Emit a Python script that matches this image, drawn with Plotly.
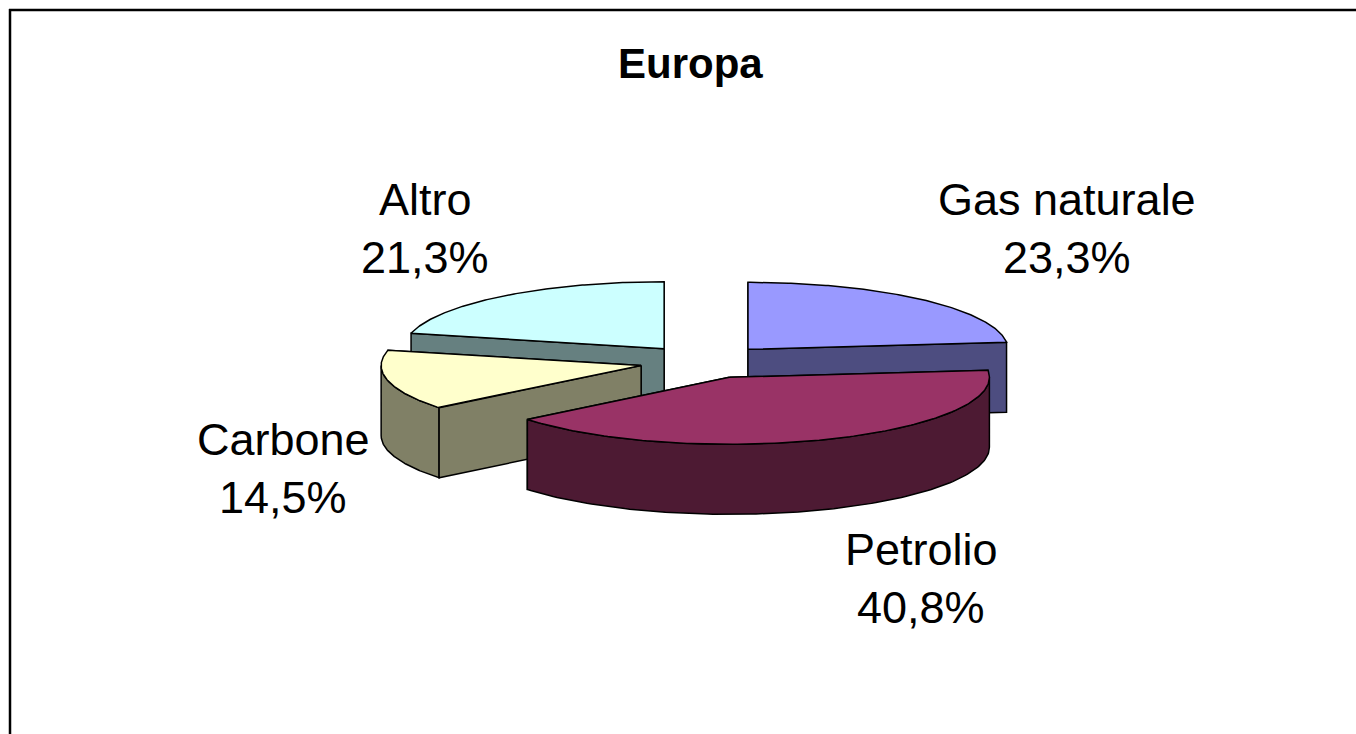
import numpy as np
import plotly.graph_objects as go

# ---- data -------------------------------------------------------------
labels = ["Gas naturale", "Petrolio", "Carbone", "Altro"]
values = [23.3, 40.8, 14.5, 21.3]
title_text = "Europa"

# ---- styles -----------------------------------------------------------
top_colors = ["#9999FF", "#993366", "#FFFFCC", "#CCFFFF"]
side_colors = ["#4D4D80", "#4D1A33", "#808066", "#668080"]
FONT = "Liberation Sans, Arial, sans-serif"

# ---- pie geometry (pixel space of the figure) -------------------------
W, H = 1356, 734
X0, Y0 = 704.5, 361.8      # centre of the un-exploded pie
RX, RY = 260.0, 67.0       # ellipse radii of the tilted top face
DEPTH = 70.0               # thickness of the pie
EXPLODE = 0.25             # explosion as a fraction of the radius

# label placement (cap-centre of the name line, centre x)
label_pos = [(1067, 199), (921, 549), (283, 439), (425, 199)]
LINE_GAP = 58


def pt(cx, cy, ang, dz=0.0):
    return cx + RX * np.cos(ang), cy - RY * np.sin(ang) + dz


fig = go.Figure()


def add_poly(xs, ys, color):
    fig.add_trace(go.Scatter(
        x=list(xs) + [xs[0]], y=list(ys) + [ys[0]],
        mode="lines", fill="toself", fillcolor=color,
        line=dict(color="black", width=1.5),
        hoverinfo="skip", showlegend=False,
    ))


def radial_face(cx, cy, a, color):
    px, py = pt(cx, cy, a)
    add_poly([cx, px, px, cx], [cy, py, py + DEPTH, cy + DEPTH], color)


total = sum(values)
slices = []
start = np.pi / 2
for i, v in enumerate(values):
    sweep = 2 * np.pi * v / total
    a1, a2 = start, start - sweep          # clockwise
    mid = (a1 + a2) / 2
    cx = X0 + EXPLODE * RX * np.cos(mid)
    cy = Y0 - EXPLODE * RY * np.sin(mid)
    slices.append((i, a1, a2, cx, cy))
    start = a2

# paint from back to front
for i, a1, a2, cx, cy in sorted(slices, key=lambda s: s[4]):
    side = side_colors[i]
    # which flat cut faces turn towards the viewer
    front_a1 = np.cos(a1) < 0
    front_a2 = np.cos(a2) > 0
    if not front_a1:
        radial_face(cx, cy, a1, side)
    if not front_a2:
        radial_face(cx, cy, a2, side)
    # curved outer wall: only the part facing the viewer
    for k in range(-2, 2):
        lo = max(a2, -np.pi + 2 * np.pi * k)
        hi = min(a1, 0.0 + 2 * np.pi * k)
        if hi - lo > 1e-6:
            ang = np.linspace(lo, hi, 120)
            tx, ty = pt(cx, cy, ang)
            xs = np.concatenate([tx, tx[::-1]])
            ys = np.concatenate([ty, (ty + DEPTH)[::-1]])
            add_poly(xs, ys, side)
    if front_a1:
        radial_face(cx, cy, a1, side)
    if front_a2:
        radial_face(cx, cy, a2, side)
    # top face
    ang = np.linspace(a1, a2, 160)
    tx, ty = pt(cx, cy, ang)
    add_poly(np.concatenate([[cx], tx]), np.concatenate([[cy], ty]),
             top_colors[i])

# labels
annotations = []
for (lx, ly), name, v in zip(label_pos, labels, values):
    pct = f"{v:.1f}%".replace(".", ",")
    for j, txt in enumerate((name, pct)):
        annotations.append(dict(
            x=lx, y=ly + j * LINE_GAP, xref="x", yref="y",
            text=txt, showarrow=False, xanchor="center", yanchor="middle",
            font=dict(family=FONT, size=45, color="black"),
        ))
annotations.append(dict(
    x=690.7, y=63.3, xref="x", yref="y", text=f"<b>{title_text}</b>",
    showarrow=False, xanchor="center", yanchor="middle",
    font=dict(family=FONT, size=42, color="black"),
))

fig.update_layout(
    width=W, height=H,
    margin=dict(l=0, r=0, t=0, b=0),
    paper_bgcolor="white", plot_bgcolor="white",
    xaxis=dict(range=[0, W], visible=False, fixedrange=True),
    yaxis=dict(range=[H, 0], visible=False, fixedrange=True),
    annotations=annotations,
    shapes=[
        dict(type="line", xref="x", yref="y", x0=9, y0=10, x1=W, y1=10,
             line=dict(color="black", width=2.5)),
        dict(type="line", xref="x", yref="y", x0=10, y0=9, x1=10, y1=H,
             line=dict(color="black", width=2.5)),
    ],
)

fig.write_html("out.html")
